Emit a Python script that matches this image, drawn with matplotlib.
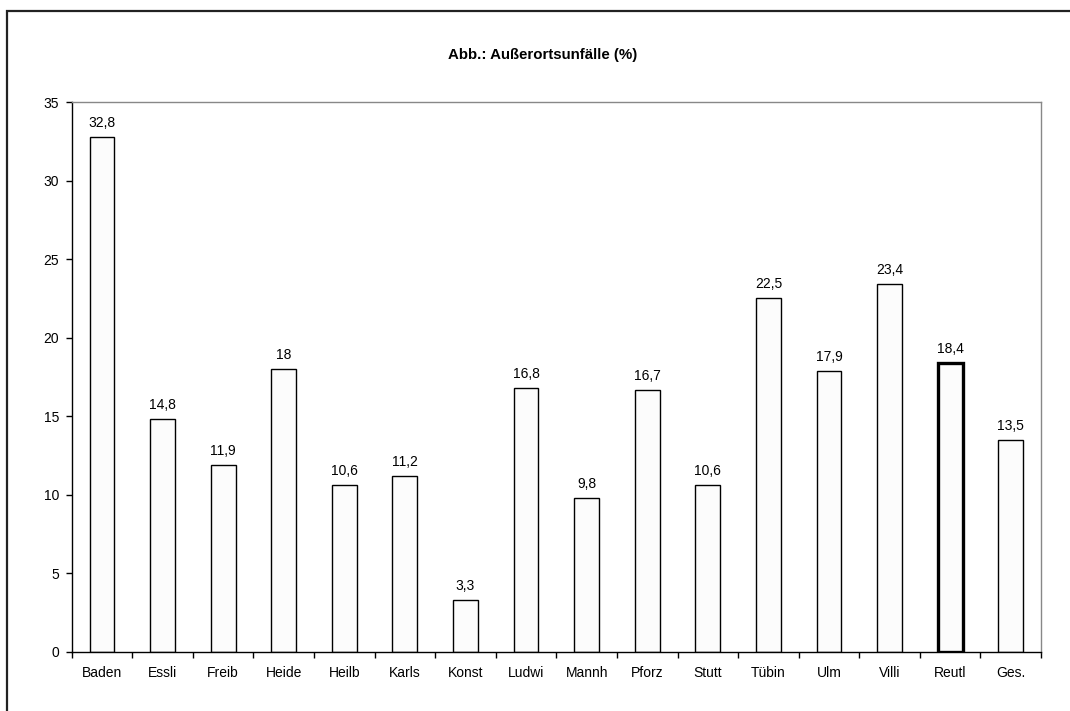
import matplotlib
matplotlib.use("Agg")
import matplotlib.pyplot as plt
from matplotlib.patches import Rectangle

plt.rcParams['font.family'] = ['Liberation Sans', 'DejaVu Sans']

# Anteil Außerortsunfälle je Region in Prozent
orte = ["Baden", "Essli", "Freib", "Heide", "Heilb", "Karls", "Konst", "Ludwi",
        "Mannh", "Pforz", "Stutt", "Tübin", "Ulm", "Villi", "Reutl", "Ges."]
werte = [32.8, 14.8, 11.9, 18, 10.6, 11.2, 3.3, 16.8,
         9.8, 16.7, 10.6, 22.5, 17.9, 23.4, 18.4, 13.5]
hervorgehoben = "Reutl"

fig = plt.figure(figsize=(10.7, 7.11), dpi=100)
ax = fig.add_axes([0.067, 0.083, 0.9059, 0.7735])

x = range(len(orte))
bars = ax.bar(x, werte, width=0.41, color="#fcfcfc", edgecolor="black", linewidth=1.0)
for b, name in zip(bars, orte):
    if name == hervorgehoben:
        b.set_linewidth(2.4)

def fmt(v):
    s = f"{v:g}"
    return s.replace(".", ",")

for xi, v in zip(x, werte):
    ax.annotate(fmt(v), (xi, v), xytext=(0, 5), textcoords="offset points",
                ha="center", va="bottom", fontsize=10)

ax.set_xlim(-0.5, len(orte) - 0.5)
ax.set_ylim(0, 35)
ax.set_yticks(range(0, 36, 5))
ax.set_xticks(list(x))
ax.set_xticklabels(orte)
ax.set_xticks([i + 0.5 for i in range(-1, len(orte))], minor=True)
ax.tick_params(axis="x", which="major", length=0, labelsize=10, pad=10)
ax.tick_params(axis="x", which="minor", length=4, width=1, direction="out")
ax.tick_params(axis="y", length=4, width=1, direction="out", labelsize=10, pad=5)

ax.spines["left"].set_color("black")
ax.spines["bottom"].set_color("black")
ax.spines["top"].set_color("#888888")
ax.spines["right"].set_color("#888888")
for s in ax.spines.values():
    s.set_linewidth(1.0)

fig.text(0.507, 0.9226, "Abb.: Außerortsunfälle (%)", ha="center", va="center",
         fontsize=10.8, fontweight="bold")

# Rahmen um die ganze Grafik
fig.patches.append(Rectangle((7 / 1070, -0.05), 1.1, 1 - 11 / 711 + 0.05,
                             transform=fig.transFigure, fill=False,
                             edgecolor="#222222", linewidth=1.6))

fig.savefig("out.png", dpi=100)
